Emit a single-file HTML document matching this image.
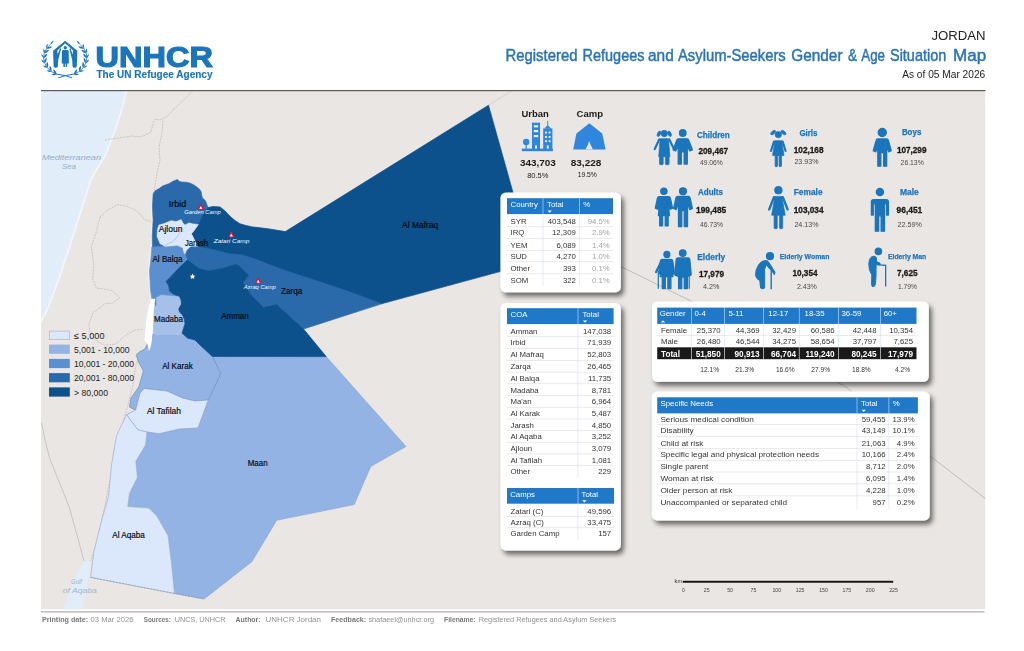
<!DOCTYPE html>
<html><head><meta charset="utf-8"><title>Jordan - Registered Refugees and Asylum-Seekers Gender &amp; Age Situation Map</title>
<style>
html,body{margin:0;padding:0;background:#fff;}
body{width:1024px;height:651px;overflow:hidden;font-family:"Liberation Sans", sans-serif;}
svg{display:block;font-family:"Liberation Sans", sans-serif;filter:blur(0.35px);}
</style></head><body>
<svg width="1024" height="651" viewBox="0 0 1024 651">
<defs>
<filter id="sh" x="-10%" y="-15%" width="125%" height="140%">
<feGaussianBlur in="SourceAlpha" stdDeviation="2.8"/>
<feOffset dx="3" dy="3.6" result="o"/>
<feComponentTransfer><feFuncA type="linear" slope="0.55"/></feComponentTransfer>
<feMerge><feMergeNode/><feMergeNode in="SourceGraphic"/></feMerge>
</filter>
<clipPath id="mapclip"><rect x="41" y="91" width="944.5" height="518.5"/></clipPath>
</defs>
<g clip-path="url(#mapclip)">
<rect x="41" y="91" width="944.5" height="518.5" fill="#e9e6e3"/>
<polygon points="40,90 126.5,90 122,109 114.5,132 105.5,155 91.5,178 80.3,213 70.7,243.5 59.2,278 47.7,308.7 40,324" fill="#e1edf8" />
<polyline points="126.5,90 122,109 114.5,132 105.5,155 91.5,178 80.3,213 70.7,243.5 59.2,278 47.7,308.7 40,324" fill="none" stroke="#f4f8fb" stroke-width="1.6" stroke-linejoin="round"/>
<polygon points="84,561 90.5,561 89,577.5 82.3,610 62.8,610 75.8,576" fill="#e1edf8" />
<polyline points="105,140 118,138 132,136 141,137 151,132 153,124 155,119 160,120 166.6,117 175,108 186,97.7 193.5,90" fill="none" stroke="#b9b6b2" stroke-width="0.7" stroke-dasharray="2 1" stroke-linejoin="round"/>
<polyline points="163,120.7 162,133 159,147.5 160,160 157,173 155,186 153.5,194" fill="none" stroke="#b9b6b2" stroke-width="0.7" stroke-dasharray="2 1" stroke-linejoin="round"/>
<polyline points="100,216.9 108,210 117.2,204.6 126,206 134.4,209.5 140,214 144.3,219.3 151.6,221.8" fill="none" stroke="#b9b6b2" stroke-width="0.7" stroke-dasharray="2 1" stroke-linejoin="round"/>
<polyline points="100,216.9 96.3,231.6 91.4,246.4 93.9,266 92.6,278.4 96.3,288.2 104,289 112.3,290.6 119.7,298 112.3,303 104.6,303.8 100,307.9 93.5,312 90.2,320 88.7,324.6 90.7,335.6 97,341 104.6,345.3 115.6,344 125.3,335.6 135,330 143.3,329.4" fill="none" stroke="#b9b6b2" stroke-width="0.7" stroke-dasharray="2 1" stroke-linejoin="round"/>
<polyline points="41.6,422.8 45,440 49.8,458.6 60,484 69.3,507.5 77,535 84,561" fill="none" stroke="#b9b6b2" stroke-width="0.7" stroke-linejoin="round"/>
<polyline points="140.6,350 136,365 133,385 128,405 122,425 114,450 110,480 104,510 96,545 90.5,561" fill="none" stroke="#b9b6b2" stroke-width="0.7" stroke-dasharray="2 1" stroke-linejoin="round"/>
<polyline points="488.5,105.2 513,90" fill="none" stroke="#cfccc8" stroke-width="0.8" stroke-linejoin="round"/>
<polyline points="532.7,262.7 621,266.6 693,302 846,387 932,457.5 986,499" fill="none" stroke="#b5b2ae" stroke-width="0.8" stroke-linejoin="round"/>
<polyline points="41,96 47,93 52,91" fill="none" stroke="#f3f1ee" stroke-width="1.2" stroke-linejoin="round"/>
<polyline points="153.6,193 152.0,207 152.6,220 151.6,236 151.0,250 149.2,262 148.8,275 149.8,288 150.8,298" fill="none" stroke="#f3f1ef" stroke-width="1.8" stroke-linejoin="round"/>
<polygon points="152.5,248 152.2,236 153.1,220 152.4,207.5 153.1,193.75 155.5,190.5 158.75,188.75 163,185.8 168.75,183.75 173,181.2 177.5,179.4 179,181.3 181.25,181.9 186,182.2 190,183.1 194,185 197.5,187.5 199.8,189.5 201.25,191.9 201.6,195 202.5,198.1 204.8,200 206.25,202.5 207,205 208.1,207.5 203,215 198.5,224.4 191.5,233.8 185,248" fill="#2b6aaa" stroke="#2b6aaa" stroke-width="0.6" stroke-linejoin="round" />
<polygon points="212.5,356.5 326.2,356.6 406,446.5 370.8,466.4 354.2,504.6 276.7,520.3 251.8,561.8 204.1,599 174.5,593.5 171.3,561.3 168,535.5 156.8,516 148.7,508 127.7,506.5 129.4,493.5 137.4,477.4 135.8,461.3 145.5,445 147,432 159,433.75 179.4,429 198,428 208.3,400 220.8,373.6" fill="#92b3e3" stroke="#7f9fd0" stroke-width="0.5" stroke-linejoin="round" />
<polygon points="153,333.75 156,335.6 167.5,334.4 180,335.6 182,333 187.5,338 195,340 200,345 212.5,356.5 220.8,373.6 208.3,400 195,401 182.5,398 167,391 144.2,388.4 140,393 135.6,410 129.4,407 131,398 138.75,387 143.4,371 138.75,362.5 136.4,355.6 137,353.75 145,348.75 147.5,343.75 151,340" fill="#92b3e3" stroke="#7393c6" stroke-width="0.8" stroke-linejoin="round" />
<polygon points="144.2,388.4 167,391 182.5,398 195,401 208.3,400 198,428 179.4,429 159,433.75 147,432 138,430 126.5,414.7 135.6,410 140,393" fill="#dbe7fa" stroke="#8fa6cf" stroke-width="0.8" stroke-linejoin="round" />
<polygon points="126.5,414.7 138,430 147,432 145.5,445 135.8,461.3 137.4,477.4 129.4,493.5 127.7,506.5 148.7,508 156.8,516 168,535.5 171.3,561.3 174.5,593.5 90.6,577.4 93.9,551.6 102,519 108.4,496.8 111.6,464.5 116.5,435.5" fill="#dbe7fa" stroke="#9db2d6" stroke-width="0.7" stroke-linejoin="round" />
<polygon points="156,297.5 161,294.5 179.3,296.1 181,300 181.5,304 178.75,308.75 179.5,312 182.5,315 184.2,319 185,323.75 182,333 180,335.6 167.5,334.4 156,335.6 153.4,333.75 153.3,315 154.6,303" fill="#a5c1ea" stroke="#a5c1ea" stroke-width="0.5" stroke-linejoin="round" />
<polygon points="151.8,247 165,246.5 177.5,245.5 182.8,248 184.4,254.2 187.2,251 186.2,259.75 179.3,267.6 172,275.5 166,281.4 168.8,286 169.5,291.2 174,294.5 179.3,296.1 161,294.5 156,297.5 156,306 152,300 150.5,290 149.5,271 151,258" fill="#5b8fd0" stroke="#5b8fd0" stroke-width="0.6" stroke-linejoin="round" />
<polygon points="186.75,250 190.7,246.3 197.7,246.3 207.9,247.9 218.1,250.3 229.9,253.4 241.6,254.2 255,258.4 273,265.5 291,272 306,276.7 350,291.4 382.3,303.6 303.5,329 276.7,304.7 263.4,307.4 251,295 243,282.5 248.75,275.3 240,266.6 236,264.3 223.6,268 208.8,271 199,268.6 187.2,259.75 186.2,255" fill="#2b6aaa" stroke="#2b6aaa" stroke-width="0.7" stroke-linejoin="round" />
<polygon points="208.1,207.5 213,206.5 220,206.9 225,211 230,216.25 235,220.5 240,223.75 246,225.5 252.5,226.9 268,228.75 285.3,231.6 488.5,105.2 513,192.5 532.7,262.7 382.3,303.6 350,291.4 306,276.7 291,272 273,265.5 255,258.4 241.6,254.2 229.9,253.4 218.1,250.3 207.9,247.9 197.7,246.3 195.4,241.6 191.5,233.8 198.5,224.4 203,215" fill="#0c508c" stroke="#0c508c" stroke-width="0.7" stroke-linejoin="round" />
<polygon points="187.2,259.75 199,268.6 208.8,271 223.6,268 236,264.3 240,266.6 248.75,275.3 243,282.5 251,295 263.4,307.4 276.7,304.7 303.5,329 326.2,356.6 212.5,356.5 200,345 195,340 187.5,338 182,333 185,323.75 184.2,319 182.5,315 179.5,312 178.75,308.75 181.5,304 181,300 179.3,296.1 174,294.5 169.5,291.2 168.8,286 166,281.4 172,275.5 179.3,267.6" fill="#0c508c" stroke="#0c508c" stroke-width="0.7" stroke-linejoin="round" />
<polygon points="158.75,225 164,223.5 171.25,220.6 176,221.5 181.25,219.4 183,223 185,225 189,222.8 192.5,223.75 198.5,224.4 193.75,231.25 191.5,233.8 195.4,241.6 197.7,246.3 190.7,246.3 186.75,250 184.4,254.2 182.8,248 177.5,245.5 165,246.5 160,243.75 156.9,236.25 157.5,228.75" fill="#dbe7fa" stroke="#dbe7fa" stroke-width="0.4" stroke-linejoin="round" />
<polyline points="181,228 179.5,233 177,237.5 172,242 168,243.5 165,246" fill="none" stroke="#aeb9cc" stroke-width="0.7" stroke-linejoin="round"/>
<polygon points="151.25,298.75 155.4,298.75 154.2,306 153.5,315 153,327.5 151.9,340 150.9,346 149,351.5 147.5,344 144.4,340 145.6,327.5 146.9,315 149,305" fill="#ffffff" />
<polyline points="90.6,577.4 174.5,593.5 204.1,599" fill="none" stroke="#8a8f99" stroke-width="0.6" stroke-dasharray="2 1.2" stroke-linejoin="round"/>
<path d="M200.8,204.3 L203.5,209.3 L198.10000000000002,209.3 Z" fill="#e8112d" stroke="#e8112d" stroke-width="1" stroke-linejoin="round"/>
<path d="M200.8,206.1 L202.4,209.1 L199.20000000000002,209.1 Z" fill="#fff"/>
<path d="M231.3,231.8 L234.0,236.8 L228.60000000000002,236.8 Z" fill="#e8112d" stroke="#e8112d" stroke-width="1" stroke-linejoin="round"/>
<path d="M231.3,233.6 L232.9,236.6 L229.70000000000002,236.6 Z" fill="#fff"/>
<path d="M258.2,277.90000000000003 L260.9,282.90000000000003 L255.5,282.90000000000003 Z" fill="#e8112d" stroke="#e8112d" stroke-width="1" stroke-linejoin="round"/>
<path d="M258.2,279.70000000000005 L259.8,282.70000000000005 L256.59999999999997,282.70000000000005 Z" fill="#fff"/>
<path d="M192.5,273.6 L193.3,275.6 L195.4,275.7 L193.8,277 L194.4,279.1 L192.5,277.9 L190.6,279.1 L191.2,277 L189.6,275.7 L191.7,275.6 Z" fill="#fff"/>
<text x="168.75" y="207.2" font-size="8.6" fill="#05090f" font-weight="normal" text-anchor="start" textLength="17.5" lengthAdjust="spacingAndGlyphs" stroke="#05090f" stroke-width="0.18">Irbid</text>
<text x="158.75" y="232.2" font-size="8.8" fill="#05090f" font-weight="normal" text-anchor="start" textLength="23.75" lengthAdjust="spacingAndGlyphs" stroke="#05090f" stroke-width="0.18">Ajloun</text>
<text x="185" y="245.6" font-size="8.6" fill="#05090f" font-weight="normal" text-anchor="start" textLength="23" lengthAdjust="spacingAndGlyphs" stroke="#05090f" stroke-width="0.18">Jarash</text>
<text x="152.5" y="262.2" font-size="8.6" fill="#05090f" font-weight="normal" text-anchor="start" textLength="30" lengthAdjust="spacingAndGlyphs" stroke="#05090f" stroke-width="0.18">Al Balqa</text>
<text x="154" y="322.2" font-size="8.6" fill="#05090f" font-weight="normal" text-anchor="start" textLength="29" lengthAdjust="spacingAndGlyphs" stroke="#05090f" stroke-width="0.18">Madaba</text>
<text x="221.25" y="319.4" font-size="8.6" fill="#05090f" font-weight="normal" text-anchor="start" textLength="27.5" lengthAdjust="spacingAndGlyphs" stroke="#05090f" stroke-width="0.18">Amman</text>
<text x="281" y="294.2" font-size="8.6" fill="#05090f" font-weight="normal" text-anchor="start" textLength="21.2" lengthAdjust="spacingAndGlyphs" stroke="#05090f" stroke-width="0.18">Zarqa</text>
<text x="402" y="227.8" font-size="8.6" fill="#05090f" font-weight="normal" text-anchor="start" textLength="36.3" lengthAdjust="spacingAndGlyphs" stroke="#05090f" stroke-width="0.18">Al Mafraq</text>
<text x="162.2" y="369" font-size="8.6" fill="#05090f" font-weight="normal" text-anchor="start" textLength="30.5" lengthAdjust="spacingAndGlyphs" stroke="#05090f" stroke-width="0.18">Al Karak</text>
<text x="146.9" y="414.2" font-size="8.6" fill="#05090f" font-weight="normal" text-anchor="start" textLength="34.1" lengthAdjust="spacingAndGlyphs" stroke="#05090f" stroke-width="0.18">Al Tafilah</text>
<text x="247.7" y="465.6" font-size="8.2" fill="#05090f" font-weight="normal" text-anchor="start" textLength="19.9" lengthAdjust="spacingAndGlyphs" stroke="#05090f" stroke-width="0.18">Maan</text>
<text x="112.3" y="537.8" font-size="8.6" fill="#05090f" font-weight="normal" text-anchor="start" textLength="32.6" lengthAdjust="spacingAndGlyphs" stroke="#05090f" stroke-width="0.18">Al Aqaba</text>
<text x="184.3" y="214.2" font-size="4.8" fill="#f4f8fd" font-weight="normal" text-anchor="start" textLength="36.4" lengthAdjust="spacingAndGlyphs" font-style="italic">Garden Camp</text>
<text x="213.7" y="243.2" font-size="4.8" fill="#f4f8fd" font-weight="normal" text-anchor="start" textLength="35.7" lengthAdjust="spacingAndGlyphs" font-style="italic">Zatari Camp</text>
<text x="243.75" y="288.9" font-size="4.8" fill="#f4f8fd" font-weight="normal" text-anchor="start" textLength="32" lengthAdjust="spacingAndGlyphs" font-style="italic">Azraq Camp</text>
<text x="42" y="160" font-size="6.8" fill="#94aec6" font-weight="normal" text-anchor="start" textLength="59" lengthAdjust="spacingAndGlyphs" font-style="italic">Mediterranean</text>
<text x="62" y="168.6" font-size="6.8" fill="#94aec6" font-weight="normal" text-anchor="start" textLength="14" lengthAdjust="spacingAndGlyphs" font-style="italic">Sea</text>
<text x="71" y="584" font-size="6.4" fill="#9db7cf" font-weight="normal" text-anchor="start" textLength="11" lengthAdjust="spacingAndGlyphs" font-style="italic">Gulf</text>
<text x="62.8" y="592.5" font-size="6.4" fill="#9db7cf" font-weight="normal" text-anchor="start" textLength="34" lengthAdjust="spacingAndGlyphs" font-style="italic">of Aqaba</text>
<rect x="49" y="330.8" width="20.8" height="9.2" fill="#dbe7fa"/>
<text x="74" y="338.90000000000003" font-size="9" fill="#222" font-weight="normal" text-anchor="start" textLength="30.5" lengthAdjust="spacingAndGlyphs" >≤ 5,000</text>
<rect x="49" y="344.6" width="20.8" height="9.2" fill="#92b3e3"/>
<text x="74" y="352.70000000000005" font-size="9" fill="#222" font-weight="normal" text-anchor="start" textLength="55.5" lengthAdjust="spacingAndGlyphs" >5,001 - 10,000</text>
<rect x="49" y="358.9" width="20.8" height="9.2" fill="#5b8fd0"/>
<text x="74" y="367.0" font-size="9" fill="#222" font-weight="normal" text-anchor="start" textLength="60" lengthAdjust="spacingAndGlyphs" >10,001 - 20,000</text>
<rect x="49" y="373.1" width="20.8" height="9.2" fill="#2b6aaa"/>
<text x="74" y="381.20000000000005" font-size="9" fill="#222" font-weight="normal" text-anchor="start" textLength="60" lengthAdjust="spacingAndGlyphs" >20,001 - 80,000</text>
<rect x="49" y="387.4" width="20.8" height="9.2" fill="#0c508c"/>
<text x="74" y="395.5" font-size="9" fill="#222" font-weight="normal" text-anchor="start" textLength="34" lengthAdjust="spacingAndGlyphs" >> 80,000</text>
<rect x="49.3" y="331.1" width="20.2" height="8.6" fill="none" stroke="#b7a9b4" stroke-width="0.6"/>
</g>
<rect x="41" y="90" width="944.5" height="1.2" fill="#5a5a5a"/>
<rect x="41" y="611.4" width="943.5" height="1" fill="#9a9a9a"/>
<g fill="#1b75bc" stroke="none">
<path d="M65.2,40.7 L53.1,50.7 L53.6,65.9 Q53.7,67.8 55.8,67.8 Q57.9,67.8 57.9,65.9 L58.2,59.9 L61.1,48.7 L60.0,48.3 L57.7,54.4 L57.3,50.6 L65.2,43.2 L73.1,50.6 L72.7,54.4 L70.4,48.3 L69.3,48.7 L72.2,59.9 L72.5,65.9 Q72.5,67.8 74.6,67.8 Q76.7,67.8 76.8,65.9 L77.3,50.7 Z"/>
<circle cx="65.3" cy="47.7" r="1.7"/>
<path d="M63.3,50 L67.3,50 Q68.6,50 68.7,51.4 L68.9,63.4 L67.3,63.4 L67.2,67 L65.7,67 L65.6,63.6 L65,63.6 L64.9,67 L63.4,67 L63.3,63.4 L61.7,63.4 L61.9,51.4 Q62,50 63.3,50 Z"/>
</g>
<polyline points="56.41,74.23 51.32,71.54 47.29,67.78 44.66,63.22 43.61,58.24 44.24,53.2 46.49,48.5 50.2,44.51" fill="none" stroke="#1b75bc" stroke-width="0.8" stroke-linejoin="round"/>
<path d="M0,0 Q2.7,-1.9 6.0,0 Q2.7,1.9 0,0 Z" transform="translate(56.41,74.23) rotate(-122.2)" fill="#1b75bc"/>
<path d="M0,0 Q2.25,-1.6 5.0,0 Q2.25,1.6 0,0 Z" transform="translate(56.41,74.23) rotate(-184.2)" fill="#1b75bc"/>
<path d="M0,0 Q2.7,-1.9 6.0,0 Q2.7,1.9 0,0 Z" transform="translate(51.32,71.54) rotate(-106.9)" fill="#1b75bc"/>
<path d="M0,0 Q2.25,-1.6 5.0,0 Q2.25,1.6 0,0 Z" transform="translate(51.32,71.54) rotate(-168.9)" fill="#1b75bc"/>
<path d="M0,0 Q2.7,-1.9 6.0,0 Q2.7,1.9 0,0 Z" transform="translate(47.29,67.78) rotate(-90.1)" fill="#1b75bc"/>
<path d="M0,0 Q2.25,-1.6 5.0,0 Q2.25,1.6 0,0 Z" transform="translate(47.29,67.78) rotate(-152.1)" fill="#1b75bc"/>
<path d="M0,0 Q2.7,-1.9 6.0,0 Q2.7,1.9 0,0 Z" transform="translate(44.66,63.22) rotate(-71.8)" fill="#1b75bc"/>
<path d="M0,0 Q2.25,-1.6 5.0,0 Q2.25,1.6 0,0 Z" transform="translate(44.66,63.22) rotate(-133.8)" fill="#1b75bc"/>
<path d="M0,0 Q2.7,-1.9 6.0,0 Q2.7,1.9 0,0 Z" transform="translate(43.61,58.24) rotate(-52.9)" fill="#1b75bc"/>
<path d="M0,0 Q2.25,-1.6 5.0,0 Q2.25,1.6 0,0 Z" transform="translate(43.61,58.24) rotate(-114.9)" fill="#1b75bc"/>
<path d="M0,0 Q2.7,-1.9 6.0,0 Q2.7,1.9 0,0 Z" transform="translate(44.24,53.20) rotate(-34.4)" fill="#1b75bc"/>
<path d="M0,0 Q2.25,-1.6 5.0,0 Q2.25,1.6 0,0 Z" transform="translate(44.24,53.20) rotate(-96.4)" fill="#1b75bc"/>
<path d="M0,0 Q2.7,-1.9 6.0,0 Q2.7,1.9 0,0 Z" transform="translate(46.49,48.50) rotate(-17.2)" fill="#1b75bc"/>
<path d="M0,0 Q2.25,-1.6 5.0,0 Q2.25,1.6 0,0 Z" transform="translate(46.49,48.50) rotate(-79.2)" fill="#1b75bc"/>
<path d="M0,0 Q2.43,-1.6 5.4,0 Q2.43,1.6 0,0 Z" transform="translate(50.20,44.51) rotate(-47.2)" fill="#1b75bc"/>
<polyline points="73.99,74.23 79.08,71.54 83.11,67.78 85.74,63.22 86.79,58.24 86.16,53.2 83.91,48.5 80.2,44.51" fill="none" stroke="#1b75bc" stroke-width="0.8" stroke-linejoin="round"/>
<path d="M0,0 Q2.7,-1.9 6.0,0 Q2.7,1.9 0,0 Z" transform="translate(73.99,74.23) rotate(-57.8)" fill="#1b75bc"/>
<path d="M0,0 Q2.25,-1.6 5.0,0 Q2.25,1.6 0,0 Z" transform="translate(73.99,74.23) rotate(4.2)" fill="#1b75bc"/>
<path d="M0,0 Q2.7,-1.9 6.0,0 Q2.7,1.9 0,0 Z" transform="translate(79.08,71.54) rotate(-73.1)" fill="#1b75bc"/>
<path d="M0,0 Q2.25,-1.6 5.0,0 Q2.25,1.6 0,0 Z" transform="translate(79.08,71.54) rotate(-11.1)" fill="#1b75bc"/>
<path d="M0,0 Q2.7,-1.9 6.0,0 Q2.7,1.9 0,0 Z" transform="translate(83.11,67.78) rotate(-89.9)" fill="#1b75bc"/>
<path d="M0,0 Q2.25,-1.6 5.0,0 Q2.25,1.6 0,0 Z" transform="translate(83.11,67.78) rotate(-27.9)" fill="#1b75bc"/>
<path d="M0,0 Q2.7,-1.9 6.0,0 Q2.7,1.9 0,0 Z" transform="translate(85.74,63.22) rotate(-108.2)" fill="#1b75bc"/>
<path d="M0,0 Q2.25,-1.6 5.0,0 Q2.25,1.6 0,0 Z" transform="translate(85.74,63.22) rotate(-46.2)" fill="#1b75bc"/>
<path d="M0,0 Q2.7,-1.9 6.0,0 Q2.7,1.9 0,0 Z" transform="translate(86.79,58.24) rotate(-127.1)" fill="#1b75bc"/>
<path d="M0,0 Q2.25,-1.6 5.0,0 Q2.25,1.6 0,0 Z" transform="translate(86.79,58.24) rotate(-65.1)" fill="#1b75bc"/>
<path d="M0,0 Q2.7,-1.9 6.0,0 Q2.7,1.9 0,0 Z" transform="translate(86.16,53.20) rotate(-145.6)" fill="#1b75bc"/>
<path d="M0,0 Q2.25,-1.6 5.0,0 Q2.25,1.6 0,0 Z" transform="translate(86.16,53.20) rotate(-83.6)" fill="#1b75bc"/>
<path d="M0,0 Q2.7,-1.9 6.0,0 Q2.7,1.9 0,0 Z" transform="translate(83.91,48.50) rotate(-162.8)" fill="#1b75bc"/>
<path d="M0,0 Q2.25,-1.6 5.0,0 Q2.25,1.6 0,0 Z" transform="translate(83.91,48.50) rotate(-100.8)" fill="#1b75bc"/>
<path d="M0,0 Q2.43,-1.6 5.4,0 Q2.43,1.6 0,0 Z" transform="translate(80.20,44.51) rotate(-132.8)" fill="#1b75bc"/>
<polyline points="74.2,74.0 65.2,75.6 58.2,77.9" fill="none" stroke="#1b75bc" stroke-width="1.0" stroke-linejoin="round"/>
<polyline points="56.2,74.0 65.2,75.6 72.2,77.9" fill="none" stroke="#1b75bc" stroke-width="1.0" stroke-linejoin="round"/>
<text x="95.5" y="67.4" font-size="29.6" fill="#1b75bc" font-weight="bold" text-anchor="start" textLength="117.4" lengthAdjust="spacingAndGlyphs" stroke="#1b75bc" stroke-width="1.2" stroke-linejoin="miter">UNHCR</text>
<text x="96.5" y="78.3" font-size="10.1" fill="#1b75bc" font-weight="bold" text-anchor="start" textLength="116" lengthAdjust="spacingAndGlyphs" stroke="#1b75bc" stroke-width="0.15">The UN Refugee Agency</text>
<text x="985.6" y="40" font-size="12.3" fill="#222" font-weight="normal" text-anchor="end" textLength="54.2" lengthAdjust="spacingAndGlyphs" >JORDAN</text>
<text x="505.5" y="61.3" font-size="16.3" fill="#2a73b7" font-weight="normal" text-anchor="start" textLength="72.0" lengthAdjust="spacingAndGlyphs" stroke="#2a73b7" stroke-width="0.45">Registered</text>
<text x="582.5" y="61.3" font-size="16.3" fill="#2a73b7" font-weight="normal" text-anchor="start" textLength="62.0" lengthAdjust="spacingAndGlyphs" stroke="#2a73b7" stroke-width="0.45">Refugees</text>
<text x="648" y="61.3" font-size="16.3" fill="#2a73b7" font-weight="normal" text-anchor="start" textLength="25.75" lengthAdjust="spacingAndGlyphs" stroke="#2a73b7" stroke-width="0.45">and</text>
<text x="678" y="61.3" font-size="16.3" fill="#2a73b7" font-weight="normal" text-anchor="start" textLength="107.75" lengthAdjust="spacingAndGlyphs" stroke="#2a73b7" stroke-width="0.45">Asylum-Seekers</text>
<text x="791.25" y="61.3" font-size="16.3" fill="#2a73b7" font-weight="normal" text-anchor="start" textLength="51.25" lengthAdjust="spacingAndGlyphs" stroke="#2a73b7" stroke-width="0.45">Gender</text>
<text x="848" y="61.3" font-size="16.3" fill="#2a73b7" font-weight="normal" text-anchor="start" textLength="9" lengthAdjust="spacingAndGlyphs" stroke="#2a73b7" stroke-width="0.45">&amp;</text>
<text x="861.25" y="61.3" font-size="16.3" fill="#2a73b7" font-weight="normal" text-anchor="start" textLength="23.75" lengthAdjust="spacingAndGlyphs" stroke="#2a73b7" stroke-width="0.45">Age</text>
<text x="890" y="61.3" font-size="16.3" fill="#2a73b7" font-weight="normal" text-anchor="start" textLength="56.25" lengthAdjust="spacingAndGlyphs" stroke="#2a73b7" stroke-width="0.45">Situation</text>
<text x="953" y="61.3" font-size="16.3" fill="#2a73b7" font-weight="normal" text-anchor="start" textLength="33.2" lengthAdjust="spacingAndGlyphs" stroke="#2a73b7" stroke-width="0.45">Map</text>
<text x="985.2" y="77.8" font-size="10.3" fill="#222" font-weight="normal" text-anchor="end" textLength="83" lengthAdjust="spacingAndGlyphs" >As of 05 Mar 2026</text>
<text x="41.9" y="622.4" font-size="6.6" fill="#787878" font-weight="bold" text-anchor="start" textLength="46.2" lengthAdjust="spacingAndGlyphs" >Printing date:</text>
<text x="90.6" y="622.4" font-size="6.6" fill="#8f8f8f" font-weight="normal" text-anchor="start" textLength="42.8" lengthAdjust="spacingAndGlyphs" >03 Mar 2026</text>
<text x="143.75" y="622.4" font-size="6.6" fill="#787878" font-weight="bold" text-anchor="start" textLength="27.2" lengthAdjust="spacingAndGlyphs" >Sources:</text>
<text x="174.7" y="622.4" font-size="6.6" fill="#8f8f8f" font-weight="normal" text-anchor="start" textLength="50.9" lengthAdjust="spacingAndGlyphs" >UNCS, UNHCR</text>
<text x="235.6" y="622.4" font-size="6.6" fill="#787878" font-weight="bold" text-anchor="start" textLength="25.0" lengthAdjust="spacingAndGlyphs" >Author:</text>
<text x="265.6" y="622.4" font-size="6.6" fill="#8f8f8f" font-weight="normal" text-anchor="start" textLength="55.4" lengthAdjust="spacingAndGlyphs" >UNHCR  Jordan</text>
<text x="331" y="622.4" font-size="6.6" fill="#787878" font-weight="bold" text-anchor="start" textLength="35.2" lengthAdjust="spacingAndGlyphs" >Feedback:</text>
<text x="368.4" y="622.4" font-size="6.6" fill="#8f8f8f" font-weight="normal" text-anchor="start" textLength="65.6" lengthAdjust="spacingAndGlyphs" >shafaeel@unhcr.org</text>
<text x="444" y="622.4" font-size="6.6" fill="#787878" font-weight="bold" text-anchor="start" textLength="31.6" lengthAdjust="spacingAndGlyphs" >Filename:</text>
<text x="478.75" y="622.4" font-size="6.6" fill="#8f8f8f" font-weight="normal" text-anchor="start" textLength="137.5" lengthAdjust="spacingAndGlyphs" >Registered Refugees and Asylum Seekers</text>
<text x="521.4" y="116.6" font-size="9.8" fill="#1c1c1c" font-weight="bold" text-anchor="start" textLength="27.4" lengthAdjust="spacingAndGlyphs" >Urban</text>
<text x="576.5" y="116.6" font-size="9.8" fill="#1c1c1c" font-weight="bold" text-anchor="start" textLength="26.5" lengthAdjust="spacingAndGlyphs" >Camp</text>
<g fill="#2e86de">
<rect x="521.8" y="148.6" width="31.1" height="2.6"/>
<rect x="532" y="122.7" width="8" height="27"/>
<rect x="543.2" y="128.4" width="9.2" height="21.5"/>
<rect x="547.3" y="120.8" width="0.9" height="8"/>
<path d="M544.2,128.6 L547.7,125.2 L551.4,128.6 Z"/>
<circle cx="526.2" cy="142" r="3.2"/>
<rect x="525.6" y="143" width="1.2" height="6"/>
</g>
<g fill="#e6f0fb">
<rect x="533.8" y="125.2" width="4.4" height="2.2"/>
<rect x="533.8" y="130" width="4.4" height="2.2"/>
<rect x="533.8" y="135" width="4.4" height="2.2"/>
<rect x="535" y="145.4" width="2" height="3.2"/>
<rect x="545" y="131.6" width="2" height="1.9"/><rect x="548.6" y="131.6" width="2" height="1.9"/>
<rect x="545" y="136" width="2" height="1.9"/><rect x="548.6" y="136" width="2" height="1.9"/>
<rect x="545" y="140.2" width="2" height="1.9"/><rect x="548.6" y="140.2" width="2" height="1.9"/>
<rect x="546.8" y="145.4" width="2" height="3.2"/>
</g>
<path d="M589.4,123.3 L602.2,133.6 L605.6,149.4 L573.2,149.4 L576.4,133.6 Z" fill="#2e86de"/>
<path d="M589.2,141 Q590.6,145.6 593,149.4 L585.4,149.4 Q587.8,145.6 589.2,141 Z" fill="#e9e6e3"/>
<text x="519.9" y="166.2" font-size="9.6" fill="#1c1c1c" font-weight="bold" text-anchor="start" textLength="36" lengthAdjust="spacingAndGlyphs" >343,703</text>
<text x="570.7" y="165.6" font-size="9.6" fill="#1c1c1c" font-weight="bold" text-anchor="start" textLength="30.7" lengthAdjust="spacingAndGlyphs" >83,228</text>
<text x="527.2" y="178" font-size="7.6" fill="#1c1c1c" font-weight="normal" text-anchor="start" textLength="21.3" lengthAdjust="spacingAndGlyphs" >80.5%</text>
<text x="577.7" y="177.2" font-size="7.6" fill="#1c1c1c" font-weight="normal" text-anchor="start" textLength="19" lengthAdjust="spacingAndGlyphs" >19.5%</text>
<g fill="#1b75bc" stroke="#1b75bc" stroke-width="1.3" stroke-linejoin="round">
<ellipse cx="659.0" cy="133.8" rx="1.5" ry="2.9" transform="rotate(25 659.0 133.8)" stroke-width="0.7"/>
<ellipse cx="669.5999999999999" cy="133.8" rx="1.5" ry="2.9" transform="rotate(-25 669.5999999999999 133.8)" stroke-width="0.7"/>
<circle cx="664.3" cy="133.5" r="3.2" stroke-width="0.7"/>
<path d="M660.0999999999999,138.70000000000002 L668.5,138.70000000000002 L669.9,156.79999999999998 L658.6999999999999,156.79999999999998 Z" stroke-width="0.7"/>
<line x1="659.1999999999999" y1="139.5" x2="654.6999999999999" y2="149.1" stroke-width="2.2" stroke-linecap="round"/>
<rect x="659.4999999999999" y="156.2" width="3.6999999999999997" height="8.50000000000001" rx="0.9" stroke-width="0.7"/>
<line x1="669.4" y1="139.5" x2="673.9" y2="149.1" stroke-width="2.2" stroke-linecap="round"/>
<rect x="665.3999999999999" y="156.2" width="3.6999999999999997" height="8.50000000000001" rx="0.9" stroke-width="0.7"/>
<circle cx="682.75" cy="133" r="3.25"/>
<path d="M678.35,138.8 L687.15,138.8 Q688.35,138.8 688.75,140.20000000000002 L692.35,149.8 L689.75,151.0 L687.25,145.3 L687.25,164 L684.15,164 L684.15,151.9 L681.35,151.9 L681.35,164 L678.25,164 L678.25,145.3 L675.75,151.0 L673.15,149.8 L676.75,140.20000000000002 Q677.15,138.8 678.35,138.8 Z"/>
<ellipse cx="773.0999999999999" cy="132.6" rx="1.5" ry="2.9" transform="rotate(52 773.0999999999999 132.6)" stroke-width="0.7"/>
<ellipse cx="783.5" cy="132.6" rx="1.5" ry="2.9" transform="rotate(-52 783.5 132.6)" stroke-width="0.7"/>
<circle cx="778.3" cy="134.6" r="3.2" stroke-width="0.7"/>
<path d="M774.8,140.70000000000002 L781.8,140.70000000000002 L784.0,155.5 L772.5999999999999,155.5 Z" stroke-width="0.7"/>
<line x1="773.9" y1="141.5" x2="771.0" y2="150.95" stroke-width="2.1" stroke-linecap="round"/>
<rect x="775.0999999999999" y="154.9" width="2.4499999999999997" height="11.799999999999994" rx="0.9" stroke-width="0.7"/>
<line x1="782.6999999999999" y1="141.5" x2="785.5999999999999" y2="150.95" stroke-width="2.1" stroke-linecap="round"/>
<rect x="779.05" y="154.9" width="2.4499999999999997" height="11.799999999999994" rx="0.9" stroke-width="0.7"/>
<circle cx="882.25" cy="132.5" r="4.05"/>
<path d="M877.75,139.0 L886.75,139.0 Q887.95,139.0 888.35,140.4 L891.25,150.6 L888.65,151.79999999999998 L886.65,145.5 L886.65,166.2 L883.65,166.2 L883.65,152.7 L880.85,152.7 L880.85,166.2 L877.85,166.2 L877.85,145.5 L875.85,151.79999999999998 L873.25,150.6 L876.15,140.4 Q876.55,139.0 877.75,139.0 Z"/>
<circle cx="663.9" cy="191.3" r="3.15"/>
<path d="M659.0,196.6 L668.8,196.6 Q669.8,196.6 670.3,197.9 L672.5,208.1 L670.2,209.2 L668.1999999999999,202.1 L669.4,215.6 L668.1,215.6 L668.1,225.9 L665.25,225.9 L665.25,215.6 L662.55,215.6 L662.55,225.9 L659.6999999999999,225.9 L659.6999999999999,215.6 L658.4,215.6 L659.6,202.1 L657.5999999999999,209.2 L655.3,208.1 L657.5,197.9 Q658.0,196.6 659.0,196.6 Z"/>
<circle cx="683" cy="191.3" r="3.45"/>
<path d="M677.6,196.3 L688.4,196.3 Q689.6,196.3 690.0,197.70000000000002 L692.4,208.4 L689.8,209.6 L687.5,202.8 L687.5,226.6 L684.25,226.6 L684.25,210.5 L681.75,210.5 L681.75,226.6 L678.5,226.6 L678.5,202.8 L676.2,209.6 L673.6,208.4 L676.0,197.70000000000002 Q676.4,196.3 677.6,196.3 Z"/>
<circle cx="778.4" cy="190.2" r="3.9000000000000004" stroke-width="0.7"/>
<path d="M774.9,196.4 L781.9,196.4 L785.2,215.2 L771.5999999999999,215.2 Z" stroke-width="0.7"/>
<line x1="774.0" y1="197.2" x2="769.1999999999999" y2="209.4" stroke-width="2.4" stroke-linecap="round"/>
<rect x="774.0999999999999" y="214.6" width="3.1499999999999995" height="14.100000000000005" rx="0.9" stroke-width="0.7"/>
<line x1="782.8" y1="197.2" x2="787.6" y2="209.4" stroke-width="2.4" stroke-linecap="round"/>
<rect x="779.55" y="214.6" width="3.1499999999999995" height="14.100000000000005" rx="0.9" stroke-width="0.7"/>
<circle cx="879.9" cy="192" r="3.6"/>
<path d="M873.8,199.6 L886.0,199.6 Q888.4,199.6 888.4,202.0 L888.4,215 L886.55,215 L886.55,203.79999999999998 L884.4499999999999,203.79999999999998 L884.4499999999999,231.2 L881.15,231.2 L881.15,215.8 L878.65,215.8 L878.65,231.2 L875.35,231.2 L875.35,203.79999999999998 L873.25,203.79999999999998 L873.25,215 L871.4,215 L871.4,202.0 Q871.4,199.6 873.8,199.6 Z"/>
<circle cx="666.9" cy="254.4" r="2.95"/>
<path d="M662.0,259.4 L671.2,259.4 Q672.2,259.4 672.7,260.7 L674.6,273.5 L672.3000000000001,274.6 L670.6,264.9 L673.0,276.5 L670.9,276.5 L670.9,288.6 L667.9,288.6 L667.9,276.5 L665.3000000000001,276.5 L665.3000000000001,288.6 L662.3000000000001,288.6 L662.3000000000001,276.5 L660.2,276.5 L662.6,264.9 L660.9,274.6 L658.6,273.5 L660.5,260.7 Q661.0,259.4 662.0,259.4 Z"/>
<circle cx="682.75" cy="253.1" r="3.25"/>
<path d="M677.8,258 L688.2,258 Q689.4000000000001,258 689.8000000000001,259.4 L691.2,274.9 L688.6,276.1 L687.4,264.5 L687.4,288.6 L684.25,288.6 L684.25,277.0 L681.75,277.0 L681.75,288.6 L678.6,288.6 L678.6,264.5 L677.4,276.1 L674.8,274.9 L676.1999999999999,259.4 Q676.5999999999999,258 677.8,258 Z"/>
<circle cx="770" cy="256.2" r="3.45"/>
<path d="M766.0,260.6 Q761.5,260.2 758.6,264.8 Q755.0,270.5 755.6,275.5 Q756.2,279 759.8,280.6 L760.6,288.0 Q760.6,288.7 762.6,288.7 Q764.6,288.7 764.6,288.0 L764.6,279 L764.6,269.6 L766.2,264.8 L773.4,273.0 L774.3,274.8 L775.0,272.2 L768.6,262.0 Q767.6,260.6 766.0,260.6 Z" stroke-width="1.0"/>
<circle cx="878.4" cy="251.4" r="3.15"/>
<path d="M873.6,256.2 Q876.4,256 876.6,258.8 L876.6,261.6 L880.2,263.3 L879.8,264.9 L876.2,264.3 L876.0,270 Q876.4,277 875.2,284.6 Q875.0,286.7 873.2,286.7 Q871.6,286.7 871.6,284.6 L871.8,275 Q868.4,270 868.8,263.4 Q869.4,256.6 873.6,256.2 Z" stroke-width="1.0"/>
</g>
<g fill="#1b75bc">
<rect x="657.7" y="271.2" width="1.2" height="17.6"/>
<line x1="661.4" y1="261.6" x2="656.1" y2="272.0" stroke="#1b75bc" stroke-width="2.3" stroke-linecap="round"/>
<rect x="688.6" y="258" width="1.2" height="30.8"/>
<rect x="770.5" y="270.4" width="1.4" height="18.8"/>
<path d="M877.2,264.0 L886.3,264.8 L886.3,286.6 L885.0,286.6 L885.0,266 L877.1,265.3 Z"/>
</g>
<text x="696.9" y="137.5" font-size="8.8" fill="#1b75bc" font-weight="bold" text-anchor="start" textLength="32.9" lengthAdjust="spacingAndGlyphs" stroke="#1b75bc" stroke-width="0.25">Children</text>
<text x="698.5" y="153.5" font-size="8.6" fill="#1c1c1c" font-weight="bold" text-anchor="start" textLength="29.6" lengthAdjust="spacingAndGlyphs" stroke="#1c1c1c" stroke-width="0.3">209,467</text>
<text x="700" y="165" font-size="6.5" fill="#4a4a4a" font-weight="normal" text-anchor="start" textLength="22.8" lengthAdjust="spacingAndGlyphs" >49.06%</text>
<text x="799.4" y="135.6" font-size="8.8" fill="#1b75bc" font-weight="bold" text-anchor="start" textLength="18.1" lengthAdjust="spacingAndGlyphs" stroke="#1b75bc" stroke-width="0.25">Girls</text>
<text x="793.75" y="152.9" font-size="8.6" fill="#1c1c1c" font-weight="bold" text-anchor="start" textLength="29.8" lengthAdjust="spacingAndGlyphs" stroke="#1c1c1c" stroke-width="0.3">102,168</text>
<text x="794.4" y="164.4" font-size="6.5" fill="#4a4a4a" font-weight="normal" text-anchor="start" textLength="24.1" lengthAdjust="spacingAndGlyphs" >23.93%</text>
<text x="901.9" y="135.4" font-size="8.8" fill="#1b75bc" font-weight="bold" text-anchor="start" textLength="19.4" lengthAdjust="spacingAndGlyphs" stroke="#1b75bc" stroke-width="0.25">Boys</text>
<text x="896.9" y="152.9" font-size="8.6" fill="#1c1c1c" font-weight="bold" text-anchor="start" textLength="29.6" lengthAdjust="spacingAndGlyphs" stroke="#1c1c1c" stroke-width="0.3">107,299</text>
<text x="900.6" y="164.6" font-size="6.5" fill="#4a4a4a" font-weight="normal" text-anchor="start" textLength="23.1" lengthAdjust="spacingAndGlyphs" >26.13%</text>
<text x="698" y="195" font-size="8.8" fill="#1b75bc" font-weight="bold" text-anchor="start" textLength="25" lengthAdjust="spacingAndGlyphs" stroke="#1b75bc" stroke-width="0.25">Adults</text>
<text x="696" y="212.9" font-size="8.6" fill="#1c1c1c" font-weight="bold" text-anchor="start" textLength="30.2" lengthAdjust="spacingAndGlyphs" stroke="#1c1c1c" stroke-width="0.3">199,485</text>
<text x="700" y="226.5" font-size="6.5" fill="#4a4a4a" font-weight="normal" text-anchor="start" textLength="23" lengthAdjust="spacingAndGlyphs" >46.73%</text>
<text x="793.75" y="195" font-size="8.8" fill="#1b75bc" font-weight="bold" text-anchor="start" textLength="28.8" lengthAdjust="spacingAndGlyphs" stroke="#1b75bc" stroke-width="0.25">Female</text>
<text x="793.75" y="212.5" font-size="8.6" fill="#1c1c1c" font-weight="bold" text-anchor="start" textLength="29.8" lengthAdjust="spacingAndGlyphs" stroke="#1c1c1c" stroke-width="0.3">103,034</text>
<text x="794.4" y="226.5" font-size="6.5" fill="#4a4a4a" font-weight="normal" text-anchor="start" textLength="24.1" lengthAdjust="spacingAndGlyphs" >24.13%</text>
<text x="900" y="195" font-size="8.8" fill="#1b75bc" font-weight="bold" text-anchor="start" textLength="18.8" lengthAdjust="spacingAndGlyphs" stroke="#1b75bc" stroke-width="0.25">Male</text>
<text x="896.5" y="212.5" font-size="8.6" fill="#1c1c1c" font-weight="bold" text-anchor="start" textLength="25.8" lengthAdjust="spacingAndGlyphs" stroke="#1c1c1c" stroke-width="0.3">96,451</text>
<text x="897.5" y="226.5" font-size="6.5" fill="#4a4a4a" font-weight="normal" text-anchor="start" textLength="24.4" lengthAdjust="spacingAndGlyphs" >22.59%</text>
<text x="697.25" y="259.75" font-size="8.8" fill="#1b75bc" font-weight="bold" text-anchor="start" textLength="28.0" lengthAdjust="spacingAndGlyphs" stroke="#1b75bc" stroke-width="0.25">Elderly</text>
<text x="699" y="277.25" font-size="8.6" fill="#1c1c1c" font-weight="bold" text-anchor="start" textLength="25" lengthAdjust="spacingAndGlyphs" stroke="#1c1c1c" stroke-width="0.3">17,979</text>
<text x="703" y="288.5" font-size="6.5" fill="#4a4a4a" font-weight="normal" text-anchor="start" textLength="16.4" lengthAdjust="spacingAndGlyphs" >4.2%</text>
<text x="779.75" y="259" font-size="7.4" fill="#1b75bc" font-weight="bold" text-anchor="start" textLength="49.6" lengthAdjust="spacingAndGlyphs" stroke="#1b75bc" stroke-width="0.25">Elderly Woman</text>
<text x="792.5" y="276.25" font-size="8.6" fill="#1c1c1c" font-weight="bold" text-anchor="start" textLength="25.0" lengthAdjust="spacingAndGlyphs" stroke="#1c1c1c" stroke-width="0.3">10,354</text>
<text x="796.9" y="288.5" font-size="6.5" fill="#4a4a4a" font-weight="normal" text-anchor="start" textLength="20.0" lengthAdjust="spacingAndGlyphs" >2.43%</text>
<text x="888" y="259" font-size="7.4" fill="#1b75bc" font-weight="bold" text-anchor="start" textLength="38.2" lengthAdjust="spacingAndGlyphs" stroke="#1b75bc" stroke-width="0.25">Elderly Man</text>
<text x="897" y="276.25" font-size="8.6" fill="#1c1c1c" font-weight="bold" text-anchor="start" textLength="20.5" lengthAdjust="spacingAndGlyphs" stroke="#1c1c1c" stroke-width="0.3">7,625</text>
<text x="898" y="288.5" font-size="6.5" fill="#4a4a4a" font-weight="normal" text-anchor="start" textLength="19" lengthAdjust="spacingAndGlyphs" >1.79%</text>
<rect x="500.4" y="192.4" width="120.39999999999998" height="99.9" rx="5.5" fill="#fff" filter="url(#sh)"/>
<rect x="507" y="198.2" width="106" height="15.9" fill="#1f78c8"/>
<rect x="542.7" y="198.2" width="0.6" height="87.40000000000003" fill="#cfe2f5"/>
<rect x="579.1" y="198.2" width="0.6" height="87.40000000000003" fill="#cfe2f5"/>
<text x="510.5" y="207" font-size="7.8" fill="#fff" font-weight="normal" text-anchor="start" >Country</text>
<text x="547" y="207" font-size="7.8" fill="#fff" font-weight="normal" text-anchor="start" >Total</text>
<text x="583.3" y="207" font-size="7.8" fill="#fff" font-weight="normal" text-anchor="start" >%</text>
<path d="M547.5,210.5 L551.9000000000001,210.5 L549.7,212.79999999999998 Z" fill="#fff"/>
<text x="510.5" y="223.8" font-size="7.8" fill="#333" font-weight="normal" text-anchor="start" >SYR</text>
<text x="575.9" y="223.8" font-size="7.8" fill="#333" font-weight="normal" text-anchor="end" >403,548</text>
<text x="609.8" y="223.8" font-size="7.8" fill="#a3a3a3" font-weight="normal" text-anchor="end" >94.5%</text>
<text x="510.5" y="235.3" font-size="7.8" fill="#333" font-weight="normal" text-anchor="start" >IRQ</text>
<text x="575.9" y="235.3" font-size="7.8" fill="#333" font-weight="normal" text-anchor="end" >12,309</text>
<text x="609.8" y="235.3" font-size="7.8" fill="#a3a3a3" font-weight="normal" text-anchor="end" >2.9%</text>
<text x="510.5" y="247.7" font-size="7.8" fill="#333" font-weight="normal" text-anchor="start" >YEM</text>
<text x="575.9" y="247.7" font-size="7.8" fill="#333" font-weight="normal" text-anchor="end" >6,089</text>
<text x="609.8" y="247.7" font-size="7.8" fill="#a3a3a3" font-weight="normal" text-anchor="end" >1.4%</text>
<text x="510.5" y="259.2" font-size="7.8" fill="#333" font-weight="normal" text-anchor="start" >SUD</text>
<text x="575.9" y="259.2" font-size="7.8" fill="#333" font-weight="normal" text-anchor="end" >4,270</text>
<text x="609.8" y="259.2" font-size="7.8" fill="#a3a3a3" font-weight="normal" text-anchor="end" >1.0%</text>
<text x="510.5" y="270.6" font-size="7.8" fill="#333" font-weight="normal" text-anchor="start" >Other</text>
<text x="575.9" y="270.6" font-size="7.8" fill="#333" font-weight="normal" text-anchor="end" >393</text>
<text x="609.8" y="270.6" font-size="7.8" fill="#a3a3a3" font-weight="normal" text-anchor="end" >0.1%</text>
<text x="510.5" y="282.6" font-size="7.8" fill="#333" font-weight="normal" text-anchor="start" >SOM</text>
<text x="575.9" y="282.6" font-size="7.8" fill="#333" font-weight="normal" text-anchor="end" >322</text>
<text x="609.8" y="282.6" font-size="7.8" fill="#a3a3a3" font-weight="normal" text-anchor="end" >0.1%</text>
<rect x="507" y="226.5" width="106" height="0.6" fill="#dcdcdc"/>
<rect x="507" y="238.2" width="106" height="0.6" fill="#dcdcdc"/>
<rect x="507" y="250.0" width="106" height="0.6" fill="#dcdcdc"/>
<rect x="507" y="261.5" width="106" height="0.6" fill="#dcdcdc"/>
<rect x="507" y="273.5" width="106" height="0.6" fill="#dcdcdc"/>
<rect x="500.4" y="303" width="120.39999999999998" height="247.39999999999998" rx="5.5" fill="#fff" filter="url(#sh)"/>
<rect x="507" y="308.2" width="106.6" height="15.9" fill="#1f78c8"/>
<rect x="577.7" y="308.2" width="0.6" height="169.8" fill="#cfe2f5"/>
<text x="510.5" y="317" font-size="7.8" fill="#fff" font-weight="normal" text-anchor="start" >COA</text>
<text x="582.4" y="317" font-size="7.8" fill="#fff" font-weight="normal" text-anchor="start" >Total</text>
<path d="M582.8,320.5 L587.2,320.5 L585,322.8 Z" fill="#fff"/>
<text x="510.5" y="333.8" font-size="7.8" fill="#333" font-weight="normal" text-anchor="start" >Amman</text>
<text x="611.2" y="333.8" font-size="7.8" fill="#333" font-weight="normal" text-anchor="end" >147,038</text>
<text x="510.5" y="345.3" font-size="7.8" fill="#333" font-weight="normal" text-anchor="start" >Irbid</text>
<text x="611.2" y="345.3" font-size="7.8" fill="#333" font-weight="normal" text-anchor="end" >71,939</text>
<text x="510.5" y="357.1" font-size="7.8" fill="#333" font-weight="normal" text-anchor="start" >Al Mafraq</text>
<text x="611.2" y="357.1" font-size="7.8" fill="#333" font-weight="normal" text-anchor="end" >52,803</text>
<text x="510.5" y="369.2" font-size="7.8" fill="#333" font-weight="normal" text-anchor="start" >Zarqa</text>
<text x="611.2" y="369.2" font-size="7.8" fill="#333" font-weight="normal" text-anchor="end" >26,465</text>
<text x="510.5" y="380.6" font-size="7.8" fill="#333" font-weight="normal" text-anchor="start" >Al Balqa</text>
<text x="611.2" y="380.6" font-size="7.8" fill="#333" font-weight="normal" text-anchor="end" >11,735</text>
<text x="510.5" y="392.6" font-size="7.8" fill="#333" font-weight="normal" text-anchor="start" >Madaba</text>
<text x="611.2" y="392.6" font-size="7.8" fill="#333" font-weight="normal" text-anchor="end" >8,781</text>
<text x="510.5" y="404.1" font-size="7.8" fill="#333" font-weight="normal" text-anchor="start" >Ma'an</text>
<text x="611.2" y="404.1" font-size="7.8" fill="#333" font-weight="normal" text-anchor="end" >6,964</text>
<text x="510.5" y="416" font-size="7.8" fill="#333" font-weight="normal" text-anchor="start" >Al Karak</text>
<text x="611.2" y="416" font-size="7.8" fill="#333" font-weight="normal" text-anchor="end" >5,487</text>
<text x="510.5" y="427.5" font-size="7.8" fill="#333" font-weight="normal" text-anchor="start" >Jarash</text>
<text x="611.2" y="427.5" font-size="7.8" fill="#333" font-weight="normal" text-anchor="end" >4,850</text>
<text x="510.5" y="439.3" font-size="7.8" fill="#333" font-weight="normal" text-anchor="start" >Al Aqaba</text>
<text x="611.2" y="439.3" font-size="7.8" fill="#333" font-weight="normal" text-anchor="end" >3,252</text>
<text x="510.5" y="450.8" font-size="7.8" fill="#333" font-weight="normal" text-anchor="start" >Ajloun</text>
<text x="611.2" y="450.8" font-size="7.8" fill="#333" font-weight="normal" text-anchor="end" >3,079</text>
<text x="510.5" y="462.6" font-size="7.8" fill="#333" font-weight="normal" text-anchor="start" >Al Tafilah</text>
<text x="611.2" y="462.6" font-size="7.8" fill="#333" font-weight="normal" text-anchor="end" >1,081</text>
<text x="510.5" y="474.4" font-size="7.8" fill="#333" font-weight="normal" text-anchor="start" >Other</text>
<text x="611.2" y="474.4" font-size="7.8" fill="#333" font-weight="normal" text-anchor="end" >229</text>
<rect x="507" y="336.45" width="106.60000000000002" height="0.6" fill="#dcdcdc"/>
<rect x="507" y="348.1" width="106.60000000000002" height="0.6" fill="#dcdcdc"/>
<rect x="507" y="360.04999999999995" width="106.60000000000002" height="0.6" fill="#dcdcdc"/>
<rect x="507" y="371.79999999999995" width="106.60000000000002" height="0.6" fill="#dcdcdc"/>
<rect x="507" y="383.5" width="106.60000000000002" height="0.6" fill="#dcdcdc"/>
<rect x="507" y="395.25" width="106.60000000000002" height="0.6" fill="#dcdcdc"/>
<rect x="507" y="406.95" width="106.60000000000002" height="0.6" fill="#dcdcdc"/>
<rect x="507" y="418.65" width="106.60000000000002" height="0.6" fill="#dcdcdc"/>
<rect x="507" y="430.29999999999995" width="106.60000000000002" height="0.6" fill="#dcdcdc"/>
<rect x="507" y="441.95" width="106.60000000000002" height="0.6" fill="#dcdcdc"/>
<rect x="507" y="453.6" width="106.60000000000002" height="0.6" fill="#dcdcdc"/>
<rect x="507" y="465.4" width="106.60000000000002" height="0.6" fill="#dcdcdc"/>
<rect x="507" y="488" width="107" height="15.7" fill="#1f78c8"/>
<rect x="577.7" y="488" width="0.6" height="52" fill="#cfe2f5"/>
<text x="510.2" y="497" font-size="7.8" fill="#fff" font-weight="normal" text-anchor="start" >Camps</text>
<text x="581.5" y="497" font-size="7.8" fill="#fff" font-weight="normal" text-anchor="start" >Total</text>
<path d="M582.1999999999999,500.29999999999995 L586.6,500.29999999999995 L584.4,502.59999999999997 Z" fill="#fff"/>
<text x="510.5" y="513.5" font-size="7.8" fill="#333" font-weight="normal" text-anchor="start" >Zatari (C)</text>
<text x="611.2" y="513.5" font-size="7.8" fill="#333" font-weight="normal" text-anchor="end" >49,596</text>
<text x="510.5" y="524.8" font-size="7.8" fill="#333" font-weight="normal" text-anchor="start" >Azraq (C)</text>
<text x="611.2" y="524.8" font-size="7.8" fill="#333" font-weight="normal" text-anchor="end" >33,475</text>
<text x="510.5" y="536.3" font-size="7.8" fill="#333" font-weight="normal" text-anchor="start" >Garden Camp</text>
<text x="611.2" y="536.3" font-size="7.8" fill="#333" font-weight="normal" text-anchor="end" >157</text>
<rect x="507" y="516.1" width="107" height="0.6" fill="#dcdcdc"/>
<rect x="507" y="527.5" width="107" height="0.6" fill="#dcdcdc"/>
<rect x="652" y="301.5" width="276.79999999999995" height="80.30000000000001" rx="5.5" fill="#fff" filter="url(#sh)"/>
<rect x="657.2" y="307.6" width="259.3" height="16.3" fill="#1f78c8"/>
<rect x="691.2" y="307.6" width="0.6" height="39.69999999999999" fill="#cfe2f5"/>
<rect x="724.2" y="307.6" width="0.6" height="39.69999999999999" fill="#cfe2f5"/>
<rect x="763.1" y="307.6" width="0.6" height="39.69999999999999" fill="#cfe2f5"/>
<rect x="798.9000000000001" y="307.6" width="0.6" height="39.69999999999999" fill="#cfe2f5"/>
<rect x="838.1" y="307.6" width="0.6" height="39.69999999999999" fill="#cfe2f5"/>
<rect x="880.4000000000001" y="307.6" width="0.6" height="39.69999999999999" fill="#cfe2f5"/>
<text x="659.7" y="315.7" font-size="7.8" fill="#fff" font-weight="normal" text-anchor="start" >Gender</text>
<text x="694.5" y="315.7" font-size="7.8" fill="#fff" font-weight="normal" text-anchor="start" >0-4</text>
<text x="728.4" y="315.7" font-size="7.8" fill="#fff" font-weight="normal" text-anchor="start" >5-11</text>
<text x="768.3" y="315.7" font-size="7.8" fill="#fff" font-weight="normal" text-anchor="start" >12-17</text>
<text x="804.6" y="315.7" font-size="7.8" fill="#fff" font-weight="normal" text-anchor="start" >18-35</text>
<text x="841.5" y="315.7" font-size="7.8" fill="#fff" font-weight="normal" text-anchor="start" >36-59</text>
<text x="883.7" y="315.7" font-size="7.8" fill="#fff" font-weight="normal" text-anchor="start" >60+</text>
<path d="M660.8,322.5 L665.2,322.5 L663,320.2 Z" fill="#fff"/>
<text x="661" y="332.6" font-size="7.8" fill="#333" font-weight="normal" text-anchor="start" >Female</text>
<text x="661" y="344.2" font-size="7.8" fill="#333" font-weight="normal" text-anchor="start" >Male</text>
<text x="720.7" y="332.6" font-size="7.8" fill="#333" font-weight="normal" text-anchor="end" >25,370</text>
<text x="759.6" y="332.6" font-size="7.8" fill="#333" font-weight="normal" text-anchor="end" >44,369</text>
<text x="796" y="332.6" font-size="7.8" fill="#333" font-weight="normal" text-anchor="end" >32,429</text>
<text x="834.6" y="332.6" font-size="7.8" fill="#333" font-weight="normal" text-anchor="end" >60,586</text>
<text x="876.5" y="332.6" font-size="7.8" fill="#333" font-weight="normal" text-anchor="end" >42,448</text>
<text x="913" y="332.6" font-size="7.8" fill="#333" font-weight="normal" text-anchor="end" >10,354</text>
<text x="720.7" y="344.2" font-size="7.8" fill="#333" font-weight="normal" text-anchor="end" >26,480</text>
<text x="759.6" y="344.2" font-size="7.8" fill="#333" font-weight="normal" text-anchor="end" >46,544</text>
<text x="796" y="344.2" font-size="7.8" fill="#333" font-weight="normal" text-anchor="end" >34,275</text>
<text x="834.6" y="344.2" font-size="7.8" fill="#333" font-weight="normal" text-anchor="end" >58,654</text>
<text x="876.5" y="344.2" font-size="7.8" fill="#333" font-weight="normal" text-anchor="end" >37,797</text>
<text x="913" y="344.2" font-size="7.8" fill="#333" font-weight="normal" text-anchor="end" >7,625</text>
<rect x="657.2" y="335.3" width="259.29999999999995" height="0.6" fill="#dcdcdc"/>
<rect x="657.2" y="347.3" width="259.3" height="11.9" fill="#1a1a1a"/>
<rect x="691.2" y="347.3" width="0.6" height="11.899999999999977" fill="#fff"/>
<rect x="724.2" y="347.3" width="0.6" height="11.899999999999977" fill="#fff"/>
<rect x="763.1" y="347.3" width="0.6" height="11.899999999999977" fill="#fff"/>
<rect x="798.9000000000001" y="347.3" width="0.6" height="11.899999999999977" fill="#fff"/>
<rect x="838.1" y="347.3" width="0.6" height="11.899999999999977" fill="#fff"/>
<rect x="880.4000000000001" y="347.3" width="0.6" height="11.899999999999977" fill="#fff"/>
<text x="661" y="356.5" font-size="8.2" fill="#fff" font-weight="bold" text-anchor="start" >Total</text>
<text x="720.7" y="356.5" font-size="8.2" fill="#fff" font-weight="bold" text-anchor="end" >51,850</text>
<text x="759.6" y="356.5" font-size="8.2" fill="#fff" font-weight="bold" text-anchor="end" >90,913</text>
<text x="796" y="356.5" font-size="8.2" fill="#fff" font-weight="bold" text-anchor="end" >66,704</text>
<text x="834.6" y="356.5" font-size="8.2" fill="#fff" font-weight="bold" text-anchor="end" >119,240</text>
<text x="876.5" y="356.5" font-size="8.2" fill="#fff" font-weight="bold" text-anchor="end" >80,245</text>
<text x="913" y="356.5" font-size="8.2" fill="#fff" font-weight="bold" text-anchor="end" >17,979</text>
<text x="719" y="371.5" font-size="6.6" fill="#333" font-weight="normal" text-anchor="end" >12.1%</text>
<text x="754" y="371.5" font-size="6.6" fill="#333" font-weight="normal" text-anchor="end" >21.3%</text>
<text x="794.6" y="371.5" font-size="6.6" fill="#333" font-weight="normal" text-anchor="end" >16.6%</text>
<text x="830" y="371.5" font-size="6.6" fill="#333" font-weight="normal" text-anchor="end" >27.9%</text>
<text x="870.7" y="371.5" font-size="6.6" fill="#333" font-weight="normal" text-anchor="end" >18.8%</text>
<text x="910" y="371.5" font-size="6.6" fill="#333" font-weight="normal" text-anchor="end" >4.2%</text>
<rect x="651.8" y="391.4" width="277.9000000000001" height="129.0" rx="5.5" fill="#fff" filter="url(#sh)"/>
<rect x="657.2" y="397.3" width="260.7" height="16.1" fill="#1f78c8"/>
<rect x="856.7" y="397.3" width="0.6" height="111.69999999999999" fill="#cfe2f5"/>
<rect x="888.6" y="397.3" width="0.6" height="111.69999999999999" fill="#cfe2f5"/>
<text x="660.4" y="405.6" font-size="7.8" fill="#fff" font-weight="normal" text-anchor="start" textLength="52.7" lengthAdjust="spacingAndGlyphs" >Specific Needs</text>
<text x="861" y="405.6" font-size="7.8" fill="#fff" font-weight="normal" text-anchor="start" >Total</text>
<text x="892.7" y="405.6" font-size="7.8" fill="#fff" font-weight="normal" text-anchor="start" >%</text>
<path d="M861.5,409.7 L865.9000000000001,409.7 L863.7,412.0 Z" fill="#fff"/>
<text x="660.4" y="421.5" font-size="7.8" fill="#333" font-weight="normal" text-anchor="start" textLength="93.5" lengthAdjust="spacingAndGlyphs" >Serious medical condition</text>
<text x="885.6" y="421.5" font-size="7.8" fill="#333" font-weight="normal" text-anchor="end" >59,455</text>
<text x="914.6" y="421.5" font-size="7.8" fill="#333" font-weight="normal" text-anchor="end" >13.9%</text>
<text x="660.4" y="433.4" font-size="7.8" fill="#333" font-weight="normal" text-anchor="start" textLength="33.3" lengthAdjust="spacingAndGlyphs" >Disability</text>
<text x="885.6" y="433.4" font-size="7.8" fill="#333" font-weight="normal" text-anchor="end" >43,149</text>
<text x="914.6" y="433.4" font-size="7.8" fill="#333" font-weight="normal" text-anchor="end" >10.1%</text>
<text x="660.4" y="445.6" font-size="7.8" fill="#333" font-weight="normal" text-anchor="start" textLength="43" lengthAdjust="spacingAndGlyphs" >Child at risk</text>
<text x="885.6" y="445.6" font-size="7.8" fill="#333" font-weight="normal" text-anchor="end" >21,063</text>
<text x="914.6" y="445.6" font-size="7.8" fill="#333" font-weight="normal" text-anchor="end" >4.9%</text>
<text x="660.4" y="457.4" font-size="7.8" fill="#333" font-weight="normal" text-anchor="start" textLength="158.6" lengthAdjust="spacingAndGlyphs" >Specific legal and physical protection needs</text>
<text x="885.6" y="457.4" font-size="7.8" fill="#333" font-weight="normal" text-anchor="end" >10,166</text>
<text x="914.6" y="457.4" font-size="7.8" fill="#333" font-weight="normal" text-anchor="end" >2.4%</text>
<text x="660.4" y="469.2" font-size="7.8" fill="#333" font-weight="normal" text-anchor="start" textLength="47.9" lengthAdjust="spacingAndGlyphs" >Single parent</text>
<text x="885.6" y="469.2" font-size="7.8" fill="#333" font-weight="normal" text-anchor="end" >8,712</text>
<text x="914.6" y="469.2" font-size="7.8" fill="#333" font-weight="normal" text-anchor="end" >2.0%</text>
<text x="660.4" y="480.6" font-size="7.8" fill="#333" font-weight="normal" text-anchor="start" textLength="53.1" lengthAdjust="spacingAndGlyphs" >Woman at risk</text>
<text x="885.6" y="480.6" font-size="7.8" fill="#333" font-weight="normal" text-anchor="end" >6,095</text>
<text x="914.6" y="480.6" font-size="7.8" fill="#333" font-weight="normal" text-anchor="end" >1.4%</text>
<text x="660.4" y="492.9" font-size="7.8" fill="#333" font-weight="normal" text-anchor="start" textLength="72" lengthAdjust="spacingAndGlyphs" >Older person at risk</text>
<text x="885.6" y="492.9" font-size="7.8" fill="#333" font-weight="normal" text-anchor="end" >4,228</text>
<text x="914.6" y="492.9" font-size="7.8" fill="#333" font-weight="normal" text-anchor="end" >1.0%</text>
<text x="660.4" y="504.7" font-size="7.8" fill="#333" font-weight="normal" text-anchor="start" textLength="126.8" lengthAdjust="spacingAndGlyphs" >Unaccompanied or separated child</text>
<text x="885.6" y="504.7" font-size="7.8" fill="#333" font-weight="normal" text-anchor="end" >957</text>
<text x="914.6" y="504.7" font-size="7.8" fill="#333" font-weight="normal" text-anchor="end" >0.2%</text>
<rect x="657.2" y="424.25" width="260.69999999999993" height="0.6" fill="#dcdcdc"/>
<rect x="657.2" y="436.3" width="260.69999999999993" height="0.6" fill="#dcdcdc"/>
<rect x="657.2" y="448.3" width="260.69999999999993" height="0.6" fill="#dcdcdc"/>
<rect x="657.2" y="460.09999999999997" width="260.69999999999993" height="0.6" fill="#dcdcdc"/>
<rect x="657.2" y="471.7" width="260.69999999999993" height="0.6" fill="#dcdcdc"/>
<rect x="657.2" y="483.55" width="260.69999999999993" height="0.6" fill="#dcdcdc"/>
<rect x="657.2" y="495.59999999999997" width="260.69999999999993" height="0.6" fill="#dcdcdc"/>
<rect x="682.8" y="580.8" width="210.4" height="1.9" fill="#111"/>
<text x="674.6" y="582.6" font-size="5.2" fill="#333" font-weight="normal" text-anchor="start" textLength="7.6" lengthAdjust="spacingAndGlyphs" >km</text>
<text x="683.4" y="591.6" font-size="5.2" fill="#444" font-weight="normal" text-anchor="middle" >0</text>
<text x="706.75" y="591.6" font-size="5.2" fill="#444" font-weight="normal" text-anchor="middle" >25</text>
<text x="730.1" y="591.6" font-size="5.2" fill="#444" font-weight="normal" text-anchor="middle" >50</text>
<text x="753.45" y="591.6" font-size="5.2" fill="#444" font-weight="normal" text-anchor="middle" >75</text>
<text x="776.8" y="591.6" font-size="5.2" fill="#444" font-weight="normal" text-anchor="middle" >100</text>
<text x="800.15" y="591.6" font-size="5.2" fill="#444" font-weight="normal" text-anchor="middle" >125</text>
<text x="823.5" y="591.6" font-size="5.2" fill="#444" font-weight="normal" text-anchor="middle" >150</text>
<text x="846.85" y="591.6" font-size="5.2" fill="#444" font-weight="normal" text-anchor="middle" >175</text>
<text x="870.2" y="591.6" font-size="5.2" fill="#444" font-weight="normal" text-anchor="middle" >200</text>
<text x="893.55" y="591.6" font-size="5.2" fill="#444" font-weight="normal" text-anchor="middle" >225</text>
</svg>
</body></html>
